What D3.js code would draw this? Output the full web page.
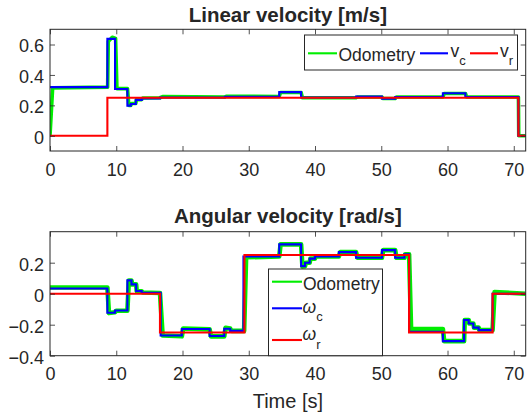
<!DOCTYPE html>
<html><head><meta charset="utf-8">
<script src="https://cdn.jsdelivr.net/npm/d3@7"></script>
<style>
body{margin:0;background:#fff;}
text{font-family:"Liberation Sans",Arial,Helvetica,sans-serif;fill:#262626;}
</style></head>
<body><svg id="c" width="531" height="420"></svg>
<script>
// ---------- data ----------
const xTicks = [0,10,20,30,40,50,60,70];
const linTicks = [0,0.2,0.4,0.6];
const angTicks = [-0.4,-0.2,0,0.2];

// Linear velocity: reference v_r (step), command v_c (step)
const vrT = [0, 8.66, 70.7, 71.8];
const vrV = [0, 0.25, 0, 0];
const vcT = [0, 8.66, 9.82, 11.68, 12.19, 12.95, 13.85, 16.6, 26.4, 34.6, 37.9, 46.2, 50.1, 52.1, 59.3, 62.7, 70.7, 71.8];
const vcV = [0.32, 0.637, 0.308, 0.198, 0.209, 0.236, 0.245, 0.252, 0.257, 0.287, 0.252, 0.258, 0.243, 0.255, 0.28, 0.255, 0, 0];
// Linear odometry (polyline vertices)
const odoLinT = [0,0.4,8.7,8.8,9.4,9.9,10.1,11.7,11.9,12.2,12.3,12.95,13.05,13.85,14,16.6,17,26.4,26.6,34.6,34.8,37.9,38.1,46.2,46.4,50.1,50.3,52.1,52.3,59.3,59.5,62.7,62.9,70.7,70.75,71.8];
const odoLinV = [0,0.315,0.32,0.62,0.648,0.64,0.31,0.31,0.2,0.2,0.212,0.212,0.238,0.238,0.248,0.25,0.258,0.255,0.26,0.258,0.285,0.285,0.25,0.25,0.255,0.255,0.245,0.245,0.255,0.255,0.278,0.278,0.255,0.255,0,0];

// Angular velocity
const wrT = [0, 16.6, 29.35, 54.2, 66.8, 71.8];
const wrV = [0, -0.25, 0.25, -0.25, 0, 0];
const wcT = [0, 8.66, 9.8, 11.68, 12.3, 13.0, 13.85, 16.7, 19.9, 24.1, 26.3, 27.2, 29.2, 34.6, 37.9, 38.5, 39.2, 40.0, 43.6, 46.2, 50.1, 52.1, 53.5, 54.2, 59.3, 62.5, 63.2, 63.9, 64.7, 66.8, 71.8];
const wcV = [0.034, -0.123, -0.108, 0.086, 0.06, 0.017, 0.006, -0.27, -0.228, -0.273, -0.226, -0.24, 0.24, 0.318, 0.178, 0.2, 0.226, 0.24, 0.268, 0.232, 0.281, 0.232, 0.254, -0.245, -0.306, -0.17, -0.192, -0.219, -0.235, 0, 0];
const odoAngT = [0,8.66,8.9,9.8,10,11.68,11.9,12.3,12.4,13.0,13.1,13.85,14,16.6,17.0,19.9,20.1,24.1,24.3,26.3,26.5,27.2,27.4,29.3,29.6,34.6,34.8,37.9,38.1,38.5,38.6,39.2,39.3,40,40.1,43.6,43.8,46.2,46.4,50.1,50.3,52.1,52.3,53.5,53.6,54.2,54.5,59.3,59.5,62.5,62.6,63.2,63.3,63.9,64,64.7,64.8,66.8,67.1,71.8];
const odoAngV = [0.04,0.04,-0.125,-0.12,-0.11,-0.11,0.085,0.085,0.06,0.06,0.015,0.015,0.008,0.005,-0.27,-0.275,-0.225,-0.23,-0.275,-0.275,-0.22,-0.225,-0.24,-0.24,0.235,0.24,0.318,0.318,0.175,0.178,0.2,0.2,0.226,0.226,0.24,0.24,0.268,0.268,0.232,0.232,0.281,0.281,0.232,0.232,0.254,0.254,-0.228,-0.228,-0.306,-0.306,-0.17,-0.17,-0.192,-0.192,-0.219,-0.219,-0.235,-0.235,0.01,0];

// ---------- layout ----------
const svg = d3.select("#c");
const X0 = 50, X1 = 525.7;
const x = d3.scaleLinear().domain([0, 71.8]).range([X0, X1]);
const panels = [
  {top:29.3, bot:151, dom:[-0.1,0.7], ticks:linTicks, title:"Linear velocity [m/s]", titleY:21.5,
   odo:[odoLinT,odoLinV], c:[vcT,vcV], r:[vrT,vrV], odoW:3.6},
  {top:231.7, bot:355.7, dom:[-0.4,0.4], ticks:angTicks, title:"Angular velocity [rad/s]", titleY:223.3,
   odo:[odoAngT,odoAngV], c:[wcT,wcV], r:[wrT,wrV], odoW:4.6}
];
const GREEN="#00ee00", BLUE="#0000ff", RED="#ff0000", AX="#262626";
const fmt = d=> d3.format("")(+d.toFixed(1));

panels.forEach((p,i)=>{
  const y = d3.scaleLinear().domain(p.dom).range([p.bot, p.top]);
  const g = svg.append("g");
  const cid = "clip"+i;
  svg.append("clipPath").attr("id",cid).append("rect")
    .attr("x",X0).attr("y",p.top).attr("width",X1-X0).attr("height",p.bot-p.top);
  g.append("rect").attr("x",X0).attr("y",p.top).attr("width",X1-X0).attr("height",p.bot-p.top).attr("fill","#fff");

  const lineLin = d3.line().x(d=>x(d[0])).y(d=>y(d[1]));
  const lineStep = d3.line().x(d=>x(d[0])).y(d=>y(d[1])).curve(d3.curveStepAfter);
  const zip = (a,b)=>a.map((t,k)=>[t,b[k]]);
  const dg = g.append("g").attr("clip-path",`url(#${cid})`);
  dg.append("path").attr("d",lineLin(zip(...p.odo))).attr("fill","none").attr("stroke",GREEN).attr("stroke-width",p.odoW).attr("stroke-linejoin","round");
  dg.append("path").attr("d",lineStep(zip(...p.c))).attr("fill","none").attr("stroke",BLUE).attr("stroke-width",2.1);
  dg.append("path").attr("d",lineStep(zip(...p.r))).attr("fill","none").attr("stroke",RED).attr("stroke-width",2.1);

  // axes
  const ab = g.append("g").attr("transform",`translate(0,${p.bot})`)
    .call(d3.axisBottom(x).tickValues(xTicks).tickSize(-5).tickSizeOuter(0).tickPadding(12));
  const at = g.append("g").attr("transform",`translate(0,${p.top})`)
    .call(d3.axisTop(x).tickValues(xTicks).tickSize(-5).tickSizeOuter(0).tickFormat(""));
  const al = g.append("g").attr("transform",`translate(${X0},0)`)
    .call(d3.axisLeft(y).tickValues(p.ticks).tickSize(-5).tickSizeOuter(0).tickPadding(6).tickFormat(fmt));
  const ar = g.append("g").attr("transform",`translate(${X1},0)`)
    .call(d3.axisRight(y).tickValues(p.ticks).tickSize(-5).tickSizeOuter(0).tickFormat(""));
  [ab,at,al,ar].forEach(a=>{
    a.select(".domain").remove();
    a.selectAll("line").attr("stroke",AX).attr("stroke-width",0.8);
    a.selectAll("text").style("font-size","18px").attr("fill",AX)
      .style("font-family","'Liberation Sans',Arial,sans-serif");
  });
  al.selectAll("text").attr("dy","0.41em");
  g.append("rect").attr("x",X0).attr("y",p.top).attr("width",X1-X0).attr("height",p.bot-p.top)
    .attr("fill","none").attr("stroke",AX).attr("stroke-width",1);

  svg.append("text").attr("x",(X0+X1)/2).attr("y",p.titleY).attr("text-anchor","middle")
    .style("font-size","20.5px").style("font-weight","bold").attr("fill","#000").text(p.title);
});

svg.append("text").attr("x",(X0+X1)/2).attr("y",408.3).attr("text-anchor","middle")
  .style("font-size","20px").attr("fill",AX).text("Time [s]");

// ---------- legends ----------
function legLine(x1,x2,yy,col){
  svg.append("line").attr("x1",x1).attr("x2",x2).attr("y1",yy).attr("y2",yy).attr("stroke",col).attr("stroke-width",2.1);
}
function sym(xx,yy,main,sub,italic,subDy){
  const t = svg.append("text").attr("x",xx).attr("y",yy).style("font-size","17.5px").attr("fill","#000");
  t.append("tspan").style("font-style",italic?"italic":"normal").text(main);
  t.append("tspan").attr("dy",subDy).style("font-size","13px").text(sub);
}
// top legend
svg.append("rect").attr("x",304.5).attr("y",35).attr("width",213).attr("height",35)
  .attr("fill","#fff").attr("stroke",AX).attr("stroke-width",1);
legLine(308,337,53.3,GREEN);
svg.append("text").attr("x",338.5).attr("y",60.7).style("font-size","17.5px").attr("fill","#000").text("Odometry");
legLine(420,448,53.3,BLUE);
sym(450.5,56.7,"v","c",false,8.3);
legLine(470,498,53.3,RED);
sym(500,56.7,"v","r",false,8.3);
// bottom legend
svg.append("rect").attr("x",268.5).attr("y",269).attr("width",114).attr("height",86.7)
  .attr("fill","#fff").attr("stroke",AX).attr("stroke-width",1);
legLine(272,302,281.7,GREEN);
svg.append("text").attr("x",303).attr("y",290).style("font-size","17.5px").attr("fill","#000").text("Odometry");
legLine(272,302,308.3,BLUE);
sym(302.5,313.3,"ω","c",true,7.4);
legLine(272,302,340,RED);
sym(302.5,340,"ω","r",true,9.3);
</script></body></html>
